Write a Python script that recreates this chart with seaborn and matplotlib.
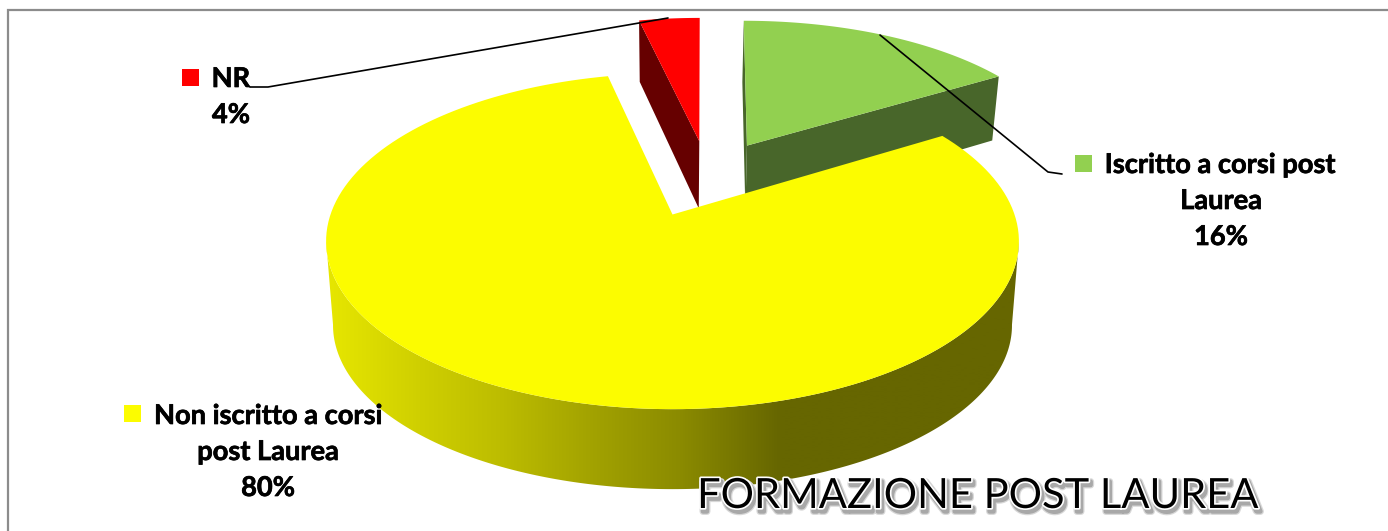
import numpy as np
import matplotlib
matplotlib.use("Agg")
import matplotlib.pyplot as plt
import matplotlib.patheffects as pe
from matplotlib.patches import Polygon
from matplotlib.colors import to_rgb
import seaborn as sns

# ---- data ----
categories = ["Iscritto a corsi post\nLaurea", "Non iscritto a corsi\npost Laurea", "NR"]
values = [16.3, 80.2, 3.5]
title = "FORMAZIONE POST LAUREA"

# ---- style ----
top_colors = ["#92d050", "#fcfc00", "#ff0000"]
side_colors = ["#48662a", "#666600", "#660000"]
offsets = [(0.245, 0.43), (0.0, 0.0), (0.10, 0.475)]
nudges = [(-4, 7, -3), (0, 0, 0), (-5, 4.5, -1)]   # dx at apex, dx growth, dy
ramp_x = [330, 420, 500, 600, 680, 780, 1022]
ramp_c = ["#e6e600", "#cfcf00", "#bdbd00", "#a0a000", "#8b8b00", "#666600", "#666600"]

sns.set_theme(style="white")
plt.rcParams["font.family"] = ["Lato", "DejaVu Sans"]

fig = plt.figure(figsize=(13.88, 5.31), dpi=100, facecolor="white")
ax = fig.add_axes([0, 0, 1, 1])

CX, CY, A, B, C, K = 672.5, 241.5, 342, 168, 27, 0.159


def top(i, u, v):
    w = 1 + K * v
    dx0, dxg, dy = nudges[i]
    x = CX + A * u / w + dx0 + dxg * (v - offsets[i][1])
    return x, CY - (B * v + C) / w + dy


def lower(x, y, depth=72, slope=-0.048):
    Y = CY - y
    return CX + 0.98 * (x - CX), y + depth + slope * Y


def rim(i, t0, t1, n=160):
    t = np.radians(np.linspace(t0, t1, n))
    return top(i, np.sin(t) + offsets[i][0], np.cos(t) + offsets[i][1])


edges = 360 * np.concatenate([[0], np.cumsum(values)]) / np.sum(values)
spans = list(zip(edges[:-1], edges[1:]))


def top_face(i, z):
    x, y = rim(i, *spans[i])
    ax_, ay_ = top(i, *offsets[i])
    ax.fill(np.r_[ax_, x], np.r_[ay_, y], color=top_colors[i], lw=0, zorder=z)


def cut_face(i, theta, z):
    t = np.radians(theta)
    x0, y0 = top(i, *offsets[i])
    x1, y1 = top(i, np.sin(t) + offsets[i][0], np.cos(t) + offsets[i][1])
    lx0, ly0 = lower(x0, y0)
    lx1, ly1 = lower(x1, y1)
    ax.fill([x0, x1, lx1, lx0], [y0, y1, ly1, ly0], color=side_colors[i], lw=0, zorder=z)


# green slice
cut_face(0, spans[0][1], 1)
cut_face(0, spans[0][0], 1)
top_face(0, 2)
# red slice
cut_face(2, spans[2][0], 3)
top_face(2, 4)

# yellow slice: front rim with a smooth left-to-right shade
x, y = rim(1, 99, 261, n=400)
lx, ly = lower(x, y, depth=84, slope=0.024)
outline = Polygon(np.c_[np.r_[x, lx[::-1]], np.r_[y, ly[::-1]]], closed=True, transform=ax.transData,
                  facecolor="none", edgecolor="none")
ax.add_patch(outline)
grid_x = np.linspace(320, 1025, 706)
rgb = np.array([to_rgb(c) for c in ramp_c])
shade = np.stack([np.interp(grid_x, ramp_x, rgb[:, k]) for k in range(3)], axis=-1)[None, :, :]
im = ax.imshow(shade, extent=(320, 1025, 500, 230), aspect="auto", interpolation="bilinear", zorder=6)
im.set_clip_path(outline)
top_face(1, 7)

ax.set_xlim(0, 1388)
ax.set_ylim(531, 0)
ax.axis("off")

# leader lines
ax.plot([880, 1048, 1062], [35, 172, 174], color="black", lw=1.2, zorder=9, solid_joinstyle="round")
ax.plot([668, 268, 250], [18, 87, 87], color="black", lw=1.2, zorder=9, solid_joinstyle="round")

# labels
heavy = [pe.withStroke(linewidth=0.5, foreground="black")]
font = dict(fontsize=19.6, fontweight="bold", color="black", ha="center", va="center", zorder=10, path_effects=heavy)
for sx, sy, i in [(1075, 155, 0), (124, 405, 1), (182, 69, 2)]:
    ax.add_patch(plt.Rectangle((sx, sy), 17, 17, facecolor=top_colors[i], edgecolor="none", zorder=10))
pct = [f"{v:.0f}%" for v in values]
l0, l1 = categories[0].split("\n")
ax.text(1220, 165, l0, **font)
ax.text(1221, 201, l1, **font)
ax.text(1221, 237, pct[0], **font)
l0, l1 = categories[1].split("\n")
ax.text(268, 416, l0, **font)
ax.text(268, 452, l1, **font)
ax.text(268, 488, pct[1], **font)
ax.text(231, 79, categories[2], **font)
ax.text(231, 115, pct[2], **font)

# title with glow and soft shadow
ax.text(977, 508, title, fontsize=30, color="black", ha="center", va="baseline", zorder=12,
        path_effects=[pe.Stroke(linewidth=5, foreground="#d8d8d8", offset=(1.5, -2.5)),
                      pe.Stroke(linewidth=3.2, foreground="#a8a8a8", offset=(1.5, -2.5)),
                      pe.Stroke(linewidth=2.4, foreground="white"), pe.Normal()])

# chart frame
ax.plot([8, 8, 1388], [531, 10, 10], color="#8c8c8c", lw=1.6, zorder=20, solid_joinstyle="miter")

fig.savefig("out.png", dpi=100)
